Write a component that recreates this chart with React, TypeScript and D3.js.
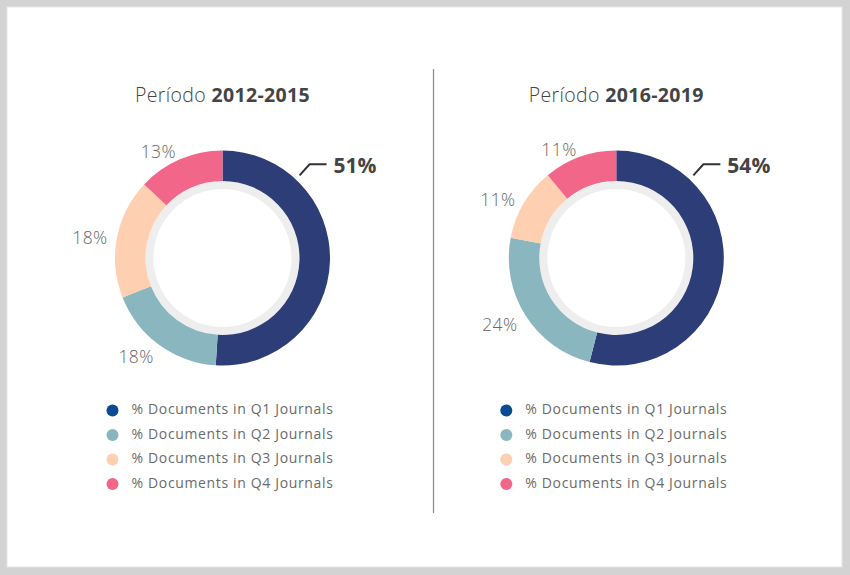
import React from "react";
import * as d3 from "d3";

const categories = ["Q1", "Q2", "Q3", "Q4"];
const legendLabels = [
  "% Documents in Q1 Journals",
  "% Documents in Q2 Journals",
  "% Documents in Q3 Journals",
  "% Documents in Q4 Journals",
];
const periods = ["2012-2015", "2016-2019"];
const values2012 = [51, 18, 18, 13];
const values2016 = [54, 24, 11, 11];
const seriesValues = [values2012, values2016];

const arcColors = ["#2c3d77", "#8ab6bf", "#fecfb1", "#f2668a"];
const legendColors = ["#0b4a92", "#8ab6bf", "#fecfb1", "#f2668a"];

const W = 850;
const H = 575;
const FONT = "'Open Sans', 'DejaVu Sans', sans-serif";

function Donut({ values, period, cx }: { values: number[]; period: string; cx: number }) {
  const cy = 258;
  const outerR = 107.5;
  const innerR = 77;
  const grayInner = 69;
  const pie = d3.pie<number>().sort(null).value((d) => d)(values);
  const arc = d3.arc<d3.PieArcDatum<number>>().innerRadius(innerR).outerRadius(outerR);
  const ring = d3.arc()({ innerRadius: grayInner, outerRadius: innerR, startAngle: 0, endAngle: Math.PI * 2 } as any) as string;
  const labelR = 117;
  const leaderAngle = (43 * Math.PI) / 180;
  const lx0 = Math.sin(leaderAngle) * 113;
  const ly0 = -Math.cos(leaderAngle) * 113;
  const lx1 = lx0 + 10;
  const ly1 = ly0 - 11;
  const lx2 = lx1 + 17;
  return (
    <g>
      <text x={cx} y={102} textAnchor="middle" fontFamily={FONT} fontSize={19.5} fill="#444" letterSpacing={0.35}>
        <tspan fontWeight={300}>Período </tspan>
        <tspan fontWeight={700}>{period}</tspan>
      </text>
      <g transform={`translate(${cx},${cy})`}>
        <path d={ring} fill="#eeeeee" />
        {pie.map((p, i) => (
          <path key={categories[i]} d={arc(p) as string} fill={arcColors[i]} />
        ))}
        {pie.map((p, i) => {
          if (i === 0) return null;
          const a = (p.startAngle + p.endAngle) / 2;
          const y = -Math.cos(a) * labelR;
          return (
            <text
              key={"l" + i}
              x={Math.sin(a) * labelR}
              y={y + (y > 0 ? 6 : 3)}
              textAnchor="end"
              dominantBaseline="middle"
              fontFamily={FONT}
              fontWeight={300}
              fontSize={17.5}
              letterSpacing={0.4}
              fill="#666666"
            >
              {values[i]}%
            </text>
          );
        })}
        <path
          d={`M${lx0},${ly0}L${lx1},${ly1}L${lx2},${ly1}`}
          fill="none"
          stroke="#333"
          strokeWidth={2}
        />
        <text
          x={lx2 + 7}
          y={ly1 + 8.5}
          fontFamily={FONT}
          fontWeight={700}
          fontSize={21}
          fill="#444"
        >
          {values[0]}%
        </text>
      </g>
      <g>
        {legendLabels.map((t, i) => (
          <g key={t} transform={`translate(${cx - 110},${410.5 + i * 24.5})`}>
            <circle r={6} fill={legendColors[i]} />
            <text
              x={19}
              y={0}
              dominantBaseline="middle"
              fontFamily={FONT}
              fontSize={14}
              letterSpacing={0.65}
              fill="#6a6a6a"
            >
              {t}
            </text>
          </g>
        ))}
      </g>
    </g>
  );
}

export default function App() {
  const centers = [222.5, 616.3];
  return (
    <svg
      width={W}
      height={H}
      style={{ position: "absolute", left: 0, top: 0, display: "block" }}
    >
      <rect x={0} y={0} width={W} height={H} fill="#d3d3d3" />
      <rect x={7} y={7} width={835} height={560} fill="#ffffff" stroke="#e6e6e6" strokeWidth={1} />
      <line x1={433.5} x2={433.5} y1={69} y2={513} stroke="#888" strokeWidth={1.2} />
      {periods.map((p, i) => (
        <Donut key={p} values={seriesValues[i]} period={p} cx={centers[i]} />
      ))}
    </svg>
  );
}
